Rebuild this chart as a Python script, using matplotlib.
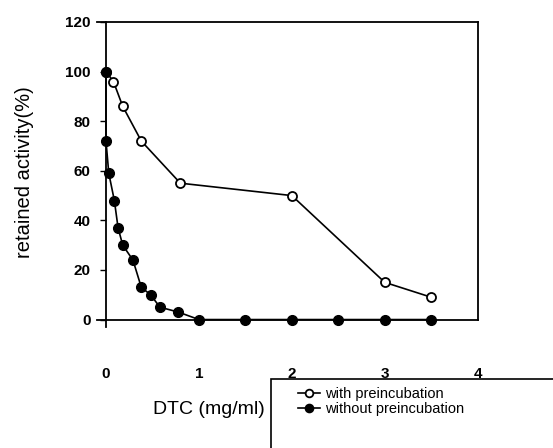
import matplotlib
matplotlib.use("Agg")
import matplotlib.pyplot as plt
from matplotlib.patches import Rectangle

plt.rcParams['font.family'] = ['Liberation Sans', 'DejaVu Sans']

# with preincubation (open circles)
x_with = [0, 0.08, 0.18, 0.38, 0.8, 2.0, 3.0, 3.5]
y_with = [100, 96, 86, 72, 55, 50, 15, 9]

# without preincubation (filled circles)
x_without = [0, 0, 0.03, 0.09, 0.13, 0.18, 0.29, 0.38, 0.48, 0.58, 0.78,
             1.0, 1.5, 2.0, 2.5, 3.0, 3.5]
y_without = [100, 72, 59, 48, 37, 30, 24, 13, 10, 5, 3,
             0, 0, 0, 0, 0, 0]

xticks = [0, 1, 2, 3, 4]
yticks = [0, 20, 40, 60, 80, 100, 120]

W, H = 553, 448
fig = plt.figure(figsize=(W / 100, H / 100), dpi=100)
ax = fig.add_axes([96.7 / W, 1 - 327 / H, 381 / W, 305 / H])

ax.plot(x_with, y_with, color='black', lw=1.2, marker='o', ms=6.5,
        mfc='white', mec='black', mew=1.3, label='with preincubation', zorder=3)
ax.plot(x_without, y_without, color='black', lw=1.2, marker='o', ms=7,
        mfc='black', mec='black', label='without preincubation', zorder=4)

ax.set_xlim(-0.1, 4)
ax.set_ylim(-3, 120)
ax.spines['left'].set_position(('data', 0))
ax.spines['bottom'].set_position(('data', 0))
ax.spines['right'].set_bounds(0, 120)
for s in ax.spines.values():
    s.set_linewidth(1.3)

ax.set_xticks(xticks)
ax.set_yticks(yticks)
ax.tick_params(axis='x', length=0, pad=34, labelsize=11)
ax.tick_params(axis='y', length=4, width=1, direction='out', labelsize=11, pad=7)
for lab in ax.get_xticklabels() + ax.get_yticklabels():
    lab.set_fontweight('bold')

fig.text(15 / W, 1 - 172 / H, 'retained activity(%)', rotation=90,
         ha='left', va='center', fontsize=14.5)
fig.text(265 / W, 1 - 409 / H, 'DTC (mg/ml)', ha='right', va='center',
         fontsize=14)

# legend box running off the page
fig.patches.append(Rectangle((271 / W, -0.2), 1.0, 1 - 379 / H + 0.2,
                             transform=fig.transFigure, fill=False,
                             ec='black', lw=1.2))
leg = fig.legend(loc='upper left', bbox_to_anchor=(291 / W, 1 - 380 / H),
                 frameon=False, fontsize=10.5, handlelength=1.5,
                 handletextpad=0.3, labelspacing=0.05, borderpad=0,
                 markerscale=0.85)

fig.savefig('out.png', dpi=100)
